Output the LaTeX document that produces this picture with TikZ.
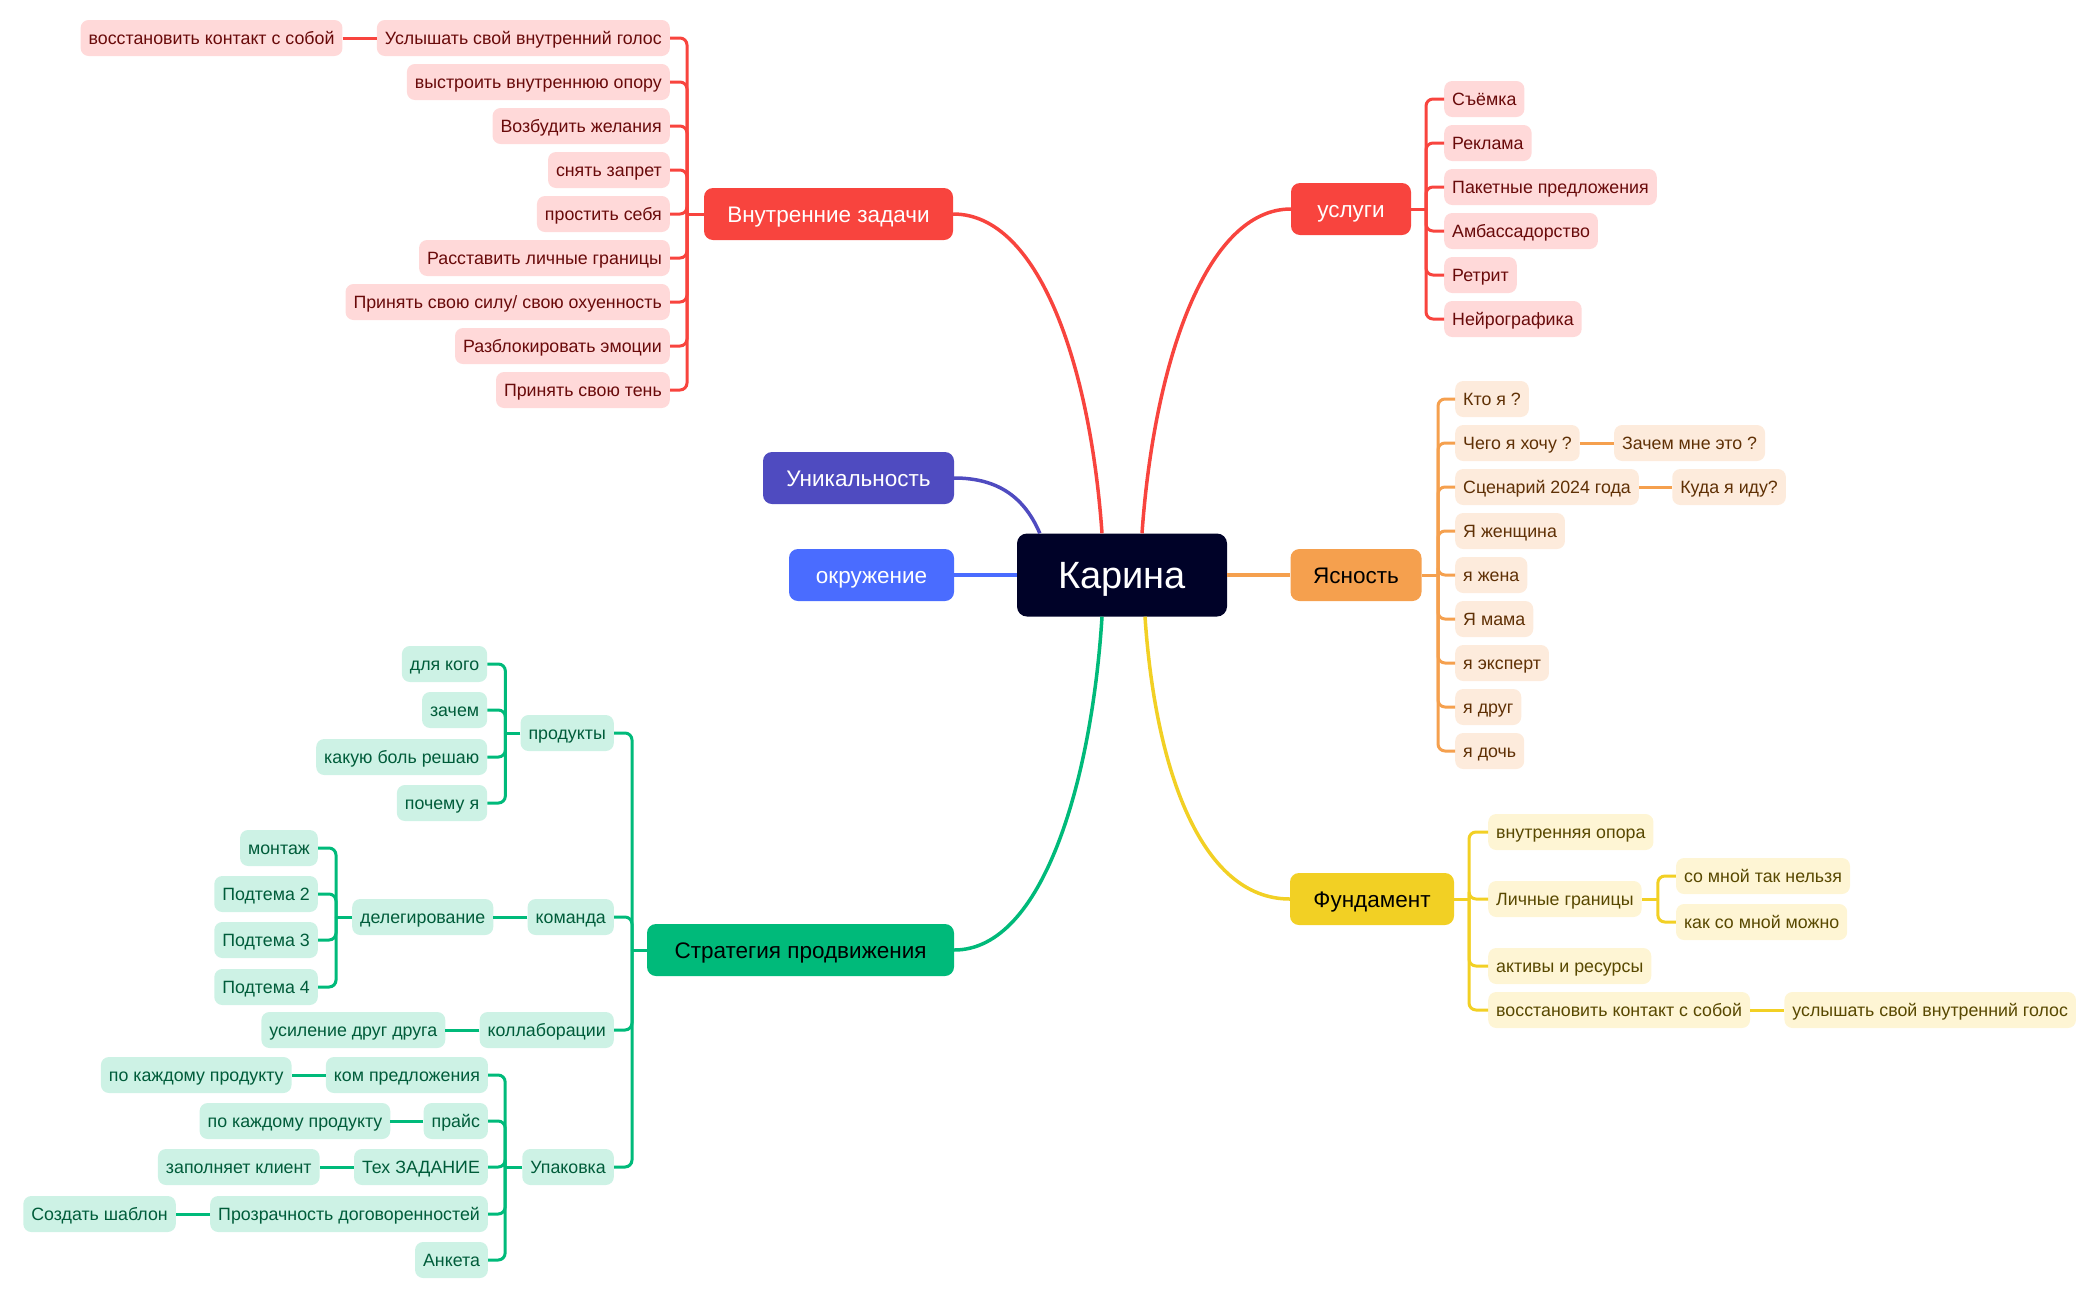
\documentclass[tikz,border=0pt]{standalone}
\usepackage{fontspec}
\setmainfont{Liberation Sans}
\usetikzlibrary{calc}
\definecolor{rM}{RGB}{248,68,62}
\definecolor{rL}{RGB}{255,217,217}
\definecolor{rT}{RGB}{105,10,10}
\definecolor{oM}{RGB}{245,160,78}
\definecolor{oL}{RGB}{253,235,220}
\definecolor{oT}{RGB}{95,48,5}
\definecolor{yM}{RGB}{242,208,36}
\definecolor{yL}{RGB}{254,245,212}
\definecolor{yT}{RGB}{88,72,0}
\definecolor{gM}{RGB}{0,186,122}
\definecolor{gL}{RGB}{205,242,229}
\definecolor{gT}{RGB}{0,92,58}
\definecolor{iM}{RGB}{79,75,192}
\definecolor{bM}{RGB}{74,108,255}
\definecolor{nM}{RGB}{0,2,40}
\begin{document}
\begin{tikzpicture}[x=1pt,y=-1pt,
  kid/.style={rounded corners=8pt, minimum height=36pt, inner xsep=8pt, inner ysep=0pt, font=\fontsize{17.8}{21}\selectfont, text height=12.75pt, text depth=0pt},
  rk/.style={kid, fill=rL, text=rT},
  ok/.style={kid, fill=oL, text=oT},
  yk/.style={kid, fill=yL, text=yT},
  gk/.style={kid, fill=gL, text=gT},
  br/.style={rounded corners=9pt, minimum height=52pt, inner sep=0pt, font=\fontsize{22.5}{26}\selectfont, text height=16.1pt, text depth=0pt},
  mainline/.style={line width=3.5pt},
  kl/.style={line width=3pt, rounded corners=7pt},
]
\useasboundingbox (0,0) rectangle (2100,1299);

% ---- central and branch nodes
\node[fill=nM, text=white, rounded corners=10pt, minimum width=210pt, minimum height=83pt, inner sep=0pt, font=\fontsize{38}{42}\selectfont, text height=27.2pt, text depth=0pt] (K) at (1122,575) {Карина};
\node[br, fill=rM, text=white, minimum width=249pt] (VZ) at (828.5,214) {Внутренние задачи};
\node[br, fill=rM, text=white, minimum width=120pt] (US) at (1351,209) {услуги};
\node[br, fill=iM, text=white, minimum width=191pt] (UN) at (858.5,478) {Уникальность};
\node[br, fill=bM, text=white, minimum width=165pt] (OK) at (871.5,575) {окружение};
\node[br, fill=oM, text=black, minimum width=131pt] (YA) at (1356,575) {Ясность};
\node[br, fill=gM, text=black, minimum width=307pt] (ST) at (800.5,950) {Стратегия продвижения};
\node[br, fill=yM, text=black, minimum width=164pt] (FU) at (1372,899) {Фундамент};

\coordinate (kn1) at ($(K.north)+(-20,0)$);
\coordinate (kn2) at ($(K.north)+(20,0)$);
\coordinate (knw) at ($(K.north west)+(23,0)$);
\coordinate (ks1) at ($(K.south)+(-20,0)$);
\coordinate (ks2) at ($(K.south)+(23,0)$);

\draw[mainline, rM] (VZ.east) .. controls +(85,0) and +(-12,-170) .. (kn1);
\draw[mainline, rM] (US.west) .. controls +(-85,0) and +(12,-170) .. (kn2);
\draw[mainline, iM] (UN.east) .. controls +(45,0) and +(-15,-35) .. (knw);
\draw[mainline, bM] (OK.east) -- (K.west);
\draw[mainline, oM] (K.east) -- (YA.west);
\draw[mainline, gM] (ST.east) .. controls +(90,0) and +(-10,160) .. (ks1);
\draw[mainline, yM] (FU.west) .. controls +(-90,0) and +(10,150) .. (ks2);

% ---- Внутренние задачи
\node[rk, anchor=east] (r1) at (670,38) {Услышать свой внутренний голос};
\node[rk, anchor=east] (r0) at ($(r1.west)+(-34,0)$) {восстановить контакт с собой};
\node[rk, anchor=east] (r2) at (670,82) {выстроить внутреннюю опору};
\node[rk, anchor=east] (r3) at (670,126) {Возбудить желания};
\node[rk, anchor=east] (r4) at (670,170) {снять запрет};
\node[rk, anchor=east] (r5) at (670,214) {простить себя};
\node[rk, anchor=east] (r6) at (670,258) {Расставить личные границы};
\node[rk, anchor=east] (r7) at (670,302) {Принять свою силу/ свою охуенность};
\node[rk, anchor=east] (r8) at (670,346) {Разблокировать эмоции};
\node[rk, anchor=east] (r9) at (670,390) {Принять свою тень};
\coordinate (rj) at (687,214);
\draw[kl, rM] (VZ.west) -- (rj);
\foreach \i in {1,...,9} { \draw[kl, rM] (rj) |- (r\i.east); }
\draw[kl, rM] (r0.east) -- (r1.west);

% ---- услуги
\node[rk, anchor=west] (u1) at (1444,99) {Съёмка};
\node[rk, anchor=west] (u2) at (1444,143) {Реклама};
\node[rk, anchor=west] (u3) at (1444,187) {Пакетные предложения};
\node[rk, anchor=west] (u4) at (1444,231) {Амбассадорство};
\node[rk, anchor=west] (u5) at (1444,275) {Ретрит};
\node[rk, anchor=west] (u6) at (1444,319) {Нейрографика};
\coordinate (uj) at (1426,209);
\draw[kl, rM] (US.east) -- (uj);
\foreach \i in {1,...,6} { \draw[kl, rM] (uj) |- (u\i.west); }

% ---- Ясность
\node[ok, anchor=west] (y1) at (1455,399) {Кто я ?};
\node[ok, anchor=west] (y2) at (1455,443) {Чего я хочу ?};
\node[ok, anchor=west] (y3) at (1455,487) {Сценарий 2024 года};
\node[ok, anchor=west] (y4) at (1455,531) {Я женщина};
\node[ok, anchor=west] (y5) at (1455,575) {я жена};
\node[ok, anchor=west] (y6) at (1455,619) {Я мама};
\node[ok, anchor=west] (y7) at (1455,663) {я эксперт};
\node[ok, anchor=west] (y8) at (1455,707) {я друг};
\node[ok, anchor=west] (y9) at (1455,751) {я дочь};
\node[ok, anchor=west] (ya) at ($(y2.east)+(34,0)$) {Зачем мне это ?};
\node[ok, anchor=west] (yb) at ($(y3.east)+(33,0)$) {Куда я иду?};
\coordinate (yj) at (1438,575);
\draw[kl, oM] (YA.east) -- (yj);
\foreach \i in {1,...,9} { \draw[kl, oM] (yj) |- (y\i.west); }
\draw[kl, oM] (y2.east) -- (ya.west);
\draw[kl, oM] (y3.east) -- (yb.west);

% ---- Фундамент
\node[yk, anchor=west] (f1) at (1488,832) {внутренняя опора};
\node[yk, anchor=west] (f2) at (1488,899) {Личные границы};
\node[yk, anchor=west] (f3) at (1488,966) {активы и ресурсы};
\node[yk, anchor=west] (f4) at (1488,1010) {восстановить контакт с собой};
\node[yk, anchor=west] (fa) at ($(f2.east)+(34,-23)$) {со мной так нельзя};
\node[yk, anchor=west] (fb) at ($(f2.east)+(34,23)$) {как со мной можно};
\node[yk, anchor=west] (fc) at ($(f4.east)+(34,0)$) {услышать свой внутренний голос};
\coordinate (fj) at (1469,899);
\draw[kl, yM] (FU.east) -- (fj);
\foreach \i in {1,...,4} { \draw[kl, yM] (fj) |- (f\i.west); }
\coordinate (fj2) at ($(f2.east)+(16,0)$);
\draw[kl, yM] (f2.east) -- (fj2);
\draw[kl, yM] (fj2) |- (fa.west);
\draw[kl, yM] (fj2) |- (fb.west);
\draw[kl, yM] (f4.east) -- (fc.west);

% ---- Стратегия продвижения
\node[gk, anchor=east] (g1) at (614,733) {продукты};
\node[gk, anchor=east] (g2) at (614,917) {команда};
\node[gk, anchor=east] (g3) at (614,1030) {коллаборации};
\node[gk, anchor=east] (g4) at (614,1167) {Упаковка};
\coordinate (gj) at (632,950);
\draw[kl, gM] (ST.west) -- (gj);
\foreach \i in {1,...,4} { \draw[kl, gM] (gj) |- (g\i.east); }

% продукты
\node[gk, anchor=east] (p1) at ($(g1.west)+(-33,-69)$) {для кого};
\node[gk, anchor=east] (p2) at ($(g1.west)+(-33,-23)$) {зачем};
\node[gk, anchor=east] (p3) at ($(g1.west)+(-33,24)$) {какую боль решаю};
\node[gk, anchor=east] (p4) at ($(g1.west)+(-33,70)$) {почему я};
\coordinate (pj) at ($(g1.west)+(-15,0)$);
\draw[kl, gM] (g1.west) -- (pj);
\foreach \i in {1,...,4} { \draw[kl, gM] (pj) |- (p\i.east); }

% команда
\node[gk, anchor=east] (dd) at ($(g2.west)+(-34,0)$) {делегирование};
\draw[kl, gM] (g2.west) -- (dd.east);
\node[gk, anchor=east] (d1) at ($(dd.west)+(-34,-69)$) {монтаж};
\node[gk, anchor=east] (d2) at ($(dd.west)+(-34,-23)$) {Подтема 2};
\node[gk, anchor=east] (d3) at ($(dd.west)+(-34,23)$) {Подтема 3};
\node[gk, anchor=east] (d4) at ($(dd.west)+(-34,70)$) {Подтема 4};
\coordinate (dj) at ($(dd.west)+(-16,0)$);
\draw[kl, gM] (dd.west) -- (dj);
\foreach \i in {1,...,4} { \draw[kl, gM] (dj) |- (d\i.east); }

% коллаборации
\node[gk, anchor=east] (cc) at ($(g3.west)+(-34,0)$) {усиление друг друга};
\draw[kl, gM] (g3.west) -- (cc.east);

% Упаковка
\node[gk, anchor=east] (k1) at ($(g4.west)+(-34,-92)$) {ком предложения};
\node[gk, anchor=east] (k2) at ($(g4.west)+(-34,-46)$) {прайс};
\node[gk, anchor=east] (k3) at ($(g4.west)+(-34,0)$) {Тех ЗАДАНИЕ};
\node[gk, anchor=east] (k4) at ($(g4.west)+(-34,47)$) {Прозрачность договоренностей};
\node[gk, anchor=east] (k5) at ($(g4.west)+(-34,93)$) {Анкета};
\coordinate (kj) at ($(g4.west)+(-17,0)$);
\draw[kl, gM] (g4.west) -- (kj);
\foreach \i in {1,...,5} { \draw[kl, gM] (kj) |- (k\i.east); }
\node[gk, anchor=east] (k1a) at ($(k1.west)+(-34,0)$) {по каждому продукту};
\node[gk, anchor=east] (k2a) at ($(k2.west)+(-33,0)$) {по каждому продукту};
\node[gk, anchor=east] (k3a) at ($(k3.west)+(-34,0)$) {заполняет клиент};
\node[gk, anchor=east] (k4a) at ($(k4.west)+(-34,0)$) {Создать шаблон};
\draw[kl, gM] (k1.west) -- (k1a.east);
\draw[kl, gM] (k2.west) -- (k2a.east);
\draw[kl, gM] (k3.west) -- (k3a.east);
\draw[kl, gM] (k4.west) -- (k4a.east);
\end{tikzpicture}
\end{document}
